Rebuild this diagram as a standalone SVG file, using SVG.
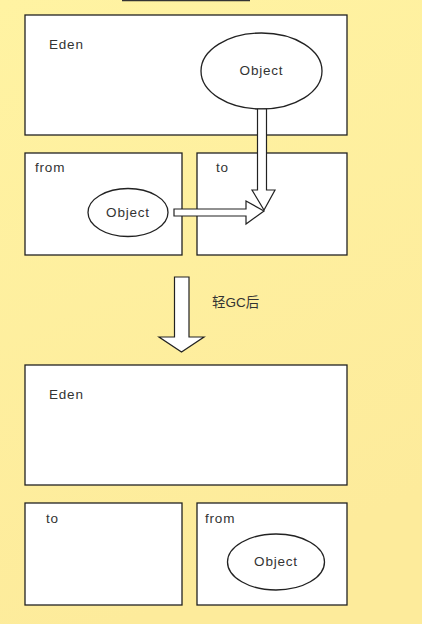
<svg xmlns="http://www.w3.org/2000/svg" width="422" height="624" viewBox="0 0 422 624">
<style>
.box{fill:#fff;stroke:#222;stroke-width:1.3}
.ell{fill:#fff;stroke:#222;stroke-width:1.3}
.arr{fill:#fff;stroke:#222;stroke-width:1.2;stroke-linejoin:miter}
.t{font-family:"Liberation Sans",sans-serif;font-size:13.5px;fill:#333;letter-spacing:0.8px}
.tc{text-anchor:middle}
</style>
<defs>
<linearGradient id="bg" x1="0" y1="0" x2="0.3" y2="1">
<stop offset="0" stop-color="#fff3a2"/>
<stop offset="1" stop-color="#fdeb9b"/>
</linearGradient>
</defs>
<rect width="422" height="624" fill="url(#bg)"/>
<line x1="122" y1="0.5" x2="250" y2="0.5" stroke="#333" stroke-width="1.5"/>
<g id="eden-top">
<rect class="box" x="25" y="15" width="322" height="120"/>
<text class="t" x="49" y="49">Eden</text>
</g>
<g id="object-eden">
<ellipse class="ell" cx="261.5" cy="71" rx="60.5" ry="38"/>
<text class="t tc" x="261.5" y="75">Object</text>
</g>
<g id="from-top">
<rect class="box" x="25" y="153" width="157" height="102"/>
<text class="t" x="35" y="172">from</text>
</g>
<g id="to-top">
<rect class="box" x="197" y="153" width="150" height="102"/>
<text class="t" x="216" y="172">to</text>
</g>
<g id="object-from">
<ellipse class="ell" cx="128" cy="212.5" rx="40" ry="24"/>
<text class="t tc" x="128" y="217">Object</text>
</g>
<g id="eden-bottom">
<rect class="box" x="25" y="365" width="322" height="120"/>
<text class="t" x="49" y="399">Eden</text>
</g>
<g id="to-bottom">
<rect class="box" x="25" y="503" width="157" height="102"/>
<text class="t" x="46" y="523">to</text>
</g>
<g id="from-bottom">
<rect class="box" x="197" y="503" width="150" height="102"/>
<text class="t" x="205" y="523">from</text>
</g>
<g id="object-survivor">
<ellipse class="ell" cx="276" cy="562" rx="48.5" ry="28"/>
<text class="t tc" x="276" y="566">Object</text>
</g>
<g id="connectors">
<path class="arr" d="M257.5 109 L257.5 190 L252 190 L264 210 L275 190 L266.5 190 L266.5 109 Z"/>
<path class="arr" d="M174 209 L246 209 L246 201 L264 211 L246 224 L246 216 L174 216 Z"/>
<path class="arr" d="M174.5 277 L189 277 L189 337 L204 337 L181.5 352 L159 337 L174.5 337 Z"/>
<text x="212" y="307" style="font-family:'Liberation Sans','Noto Sans CJK SC',sans-serif;font-size:13.5px;fill:#333">轻GC后</text>
</g>
</svg>
